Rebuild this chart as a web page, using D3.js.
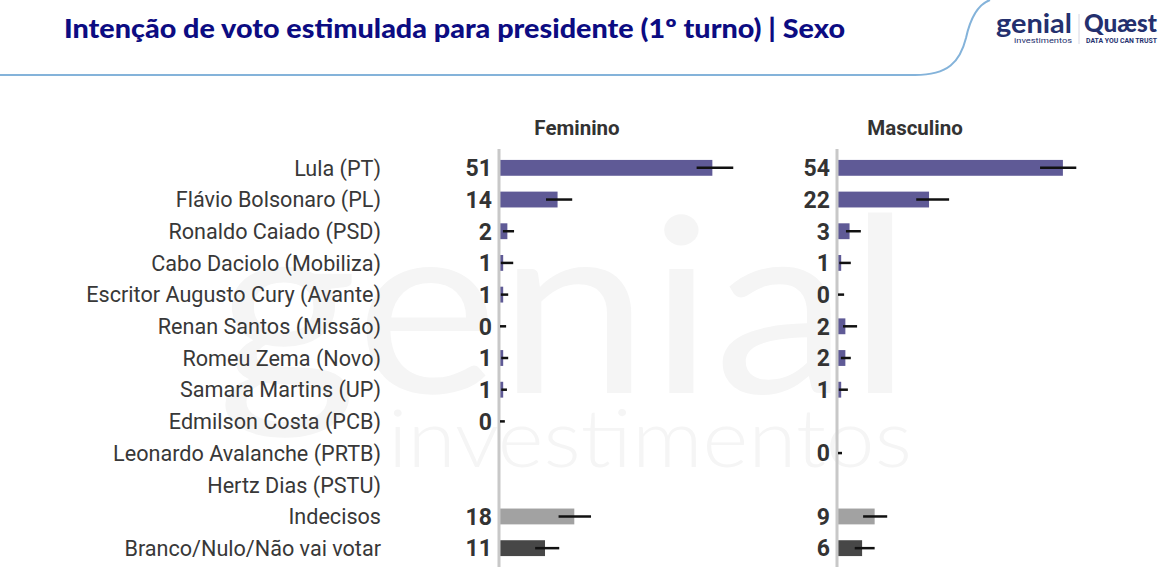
<!DOCTYPE html>
<html>
<head>
<meta charset="utf-8">
<script src="https://cdn.jsdelivr.net/npm/d3@7"></script>
<style>
  body { margin: 0; background: #fff; }
  svg text { font-family: Roboto, "Noto Sans", sans-serif; }
</style>
</head>
<body>
<svg id="chart"></svg>
<script>
var width = 1168;
var height = 582;

var categories = [
    'Lula (PT)', 'Flávio Bolsonaro (PL)', 'Ronaldo Caiado (PSD)', 'Cabo Daciolo (Mobiliza)',
    'Escritor Augusto Cury (Avante)', 'Renan Santos (Missão)', 'Romeu Zema (Novo)',
    'Samara Martins (UP)', 'Edmilson Costa (PCB)', 'Leonardo Avalanche (PRTB)',
    'Hertz Dias (PSTU)', 'Indecisos', 'Branco/Nulo/Não vai votar'
];
var panels = ['Feminino', 'Masculino'];

// null = no value shown
var femValues = [51, 14, 2, 1, 1, 0, 1, 1, 0, null, null, 18, 11];
var femLow = [47, 11, 0.7, 0.2, 0.2, 0, 0.3, 0.3, 0, null, null, 14, 8.4];
var femHigh = [56, 17.5, 3.6, 3.4, 2.2, 1.7, 2.2, 1.9, 1.4, null, null, 22, 14.4];

var mascValues = [54, 22, 3, 1, 0, 2, 2, 1, null, 0, null, 9, 6];
var mascLow = [48.3, 18.7, 1.9, 0.3, 0, 1.2, 0.7, 0.2, null, 0, null, 6, 4];
var mascHigh = [57.2, 26.8, 5.7, 3.3, 1.7, 4.8, 3.3, 2.6, null, 1.2, null, 12, 9];

var purple = '#5f5a96';
function barColor(cat) {
    if (cat === 'Indecisos') return '#a2a2a2';
    if (cat === 'Branco/Nulo/Não vai votar') return '#474747';
    return purple;
}

var svg = d3.select('#chart')
    .attr('width', width)
    .attr('height', height);

// faint background watermark
svg.append('text')
    .attr('x', 217).attr('y', 393)
    .attr('textLength', 695).attr('lengthAdjust', 'spacingAndGlyphs')
    .style('font-family', 'Lato, sans-serif')
    .style('font-size', '245px')
    .style('font-weight', 400)
    .attr('fill', '#f5f5f5')
    .text('genial');
svg.append('text')
    .attr('x', 388).attr('y', 467)
    .attr('textLength', 524).attr('lengthAdjust', 'spacingAndGlyphs')
    .style('font-family', 'Lato, sans-serif')
    .style('font-size', '80px')
    .style('font-weight', 300)
    .attr('fill', '#f5f5f5')
    .text('investimentos');

// header
svg.append('text')
    .attr('x', 64).attr('y', 38)
    .attr('textLength', 781).attr('lengthAdjust', 'spacingAndGlyphs')
    .style('font-family', 'Lato, sans-serif')
    .style('font-size', '26px')
    .style('font-weight', 900)
    .attr('fill', '#0c0c82')
    .text('Intenção de voto estimulada para presidente (1º turno) | Sexo');

svg.append('path')
    .attr('d', 'M0,75 L915,75 C948,75 960,62 966,38 C971,15 979,4 990,0')
    .attr('fill', 'none')
    .attr('stroke', '#84b3da')
    .attr('stroke-width', 2);

// logos
var logo = svg.append('g');
logo.append('text')
    .attr('x', 996).attr('y', 33)
    .style('font-family', 'Lato, sans-serif')
    .style('font-size', '27px').style('font-weight', 700)
    .attr('fill', '#24306e')
    .attr('textLength', 76).attr('lengthAdjust', 'spacingAndGlyphs')
    .text('genial');
logo.append('text')
    .attr('x', 1014).attr('y', 43)
    .style('font-size', '7.5px')
    .attr('fill', '#24306e')
    .attr('textLength', 58).attr('lengthAdjust', 'spacingAndGlyphs')
    .text('investimentos');
logo.append('line')
    .attr('x1', 1079).attr('x2', 1079).attr('y1', 14).attr('y2', 44)
    .attr('stroke', '#d6d6e2').attr('stroke-width', 1);
logo.append('text')
    .attr('x', 1084).attr('y', 32)
    .style('font-family', 'Lato, sans-serif')
    .style('font-size', '25px').style('font-weight', 900)
    .attr('fill', '#24306e')
    .attr('textLength', 73).attr('lengthAdjust', 'spacingAndGlyphs')
    .text('Quæst');
logo.append('text')
    .attr('x', 1086).attr('y', 43)
    .style('font-size', '6.5px').style('font-weight', 700)
    .attr('fill', '#24306e')
    .attr('textLength', 71).attr('lengthAdjust', 'spacingAndGlyphs')
    .text('DATA YOU CAN TRUST');

// scales
var y = d3.scaleBand()
    .domain(categories)
    .range([152, 564])
    .paddingInner(0.5)
    .paddingOuter(0.25);

var x = d3.scaleLinear()
    .domain([0, 60])
    .range([0, 251]);

// category labels
svg.append('g')
    .selectAll('text')
    .data(categories)
    .enter().append('text')
    .attr('x', 381)
    .attr('y', function (d) { return y(d) + y.bandwidth() / 2; })
    .attr('dy', '0.36em')
    .attr('text-anchor', 'end')
    .style('font-size', '21.6px')
    .attr('fill', '#383838')
    .text(function (d) { return d; });

var panelData = [
    { name: panels[0], x0: 499, values: femValues, low: femLow, high: femHigh },
    { name: panels[1], x0: 837, values: mascValues, low: mascLow, high: mascHigh }
];

panelData.forEach(function (p) {
    var g = svg.append('g').attr('transform', 'translate(' + p.x0 + ',0)');
    var rows = categories.map(function (c, i) {
        return { cat: c, v: p.values[i], lo: p.low[i], hi: p.high[i] };
    }).filter(function (d) { return d.v !== null; });

    g.append('text')
        .attr('x', 78).attr('y', 135)
        .attr('text-anchor', 'middle')
        .style('font-size', '20.5px').style('font-weight', 700)
        .attr('fill', '#333')
        .text(p.name);

    g.selectAll('rect.bar')
        .data(rows)
        .enter().append('rect')
        .attr('class', 'bar')
        .attr('x', 0)
        .attr('y', function (d) { return y(d.cat); })
        .attr('width', function (d) { return x(d.v); })
        .attr('height', y.bandwidth())
        .attr('fill', function (d) { return barColor(d.cat); });

    g.append('line')
        .attr('x1', 0).attr('x2', 0)
        .attr('y1', 149).attr('y2', 567)
        .attr('stroke', '#c8c8c8')
        .attr('stroke-width', 3);

    g.selectAll('line.err')
        .data(rows)
        .enter().append('line')
        .attr('class', 'err')
        .attr('x1', function (d) { return x(d.lo) + 1; })
        .attr('x2', function (d) { return x(d.hi); })
        .attr('y1', function (d) { return y(d.cat) + y.bandwidth() / 2; })
        .attr('y2', function (d) { return y(d.cat) + y.bandwidth() / 2; })
        .attr('stroke', '#111')
        .attr('stroke-width', 2.5);

    g.selectAll('text.val')
        .data(rows)
        .enter().append('text')
        .attr('class', 'val')
        .attr('x', -7)
        .attr('y', function (d) { return y(d.cat) + y.bandwidth() / 2; })
        .attr('dy', '0.36em')
        .attr('text-anchor', 'end')
        .style('font-size', '23px').style('font-weight', 700)
        .attr('fill', '#333')
        .text(function (d) { return d.v; });
});
</script>
</body>
</html>
